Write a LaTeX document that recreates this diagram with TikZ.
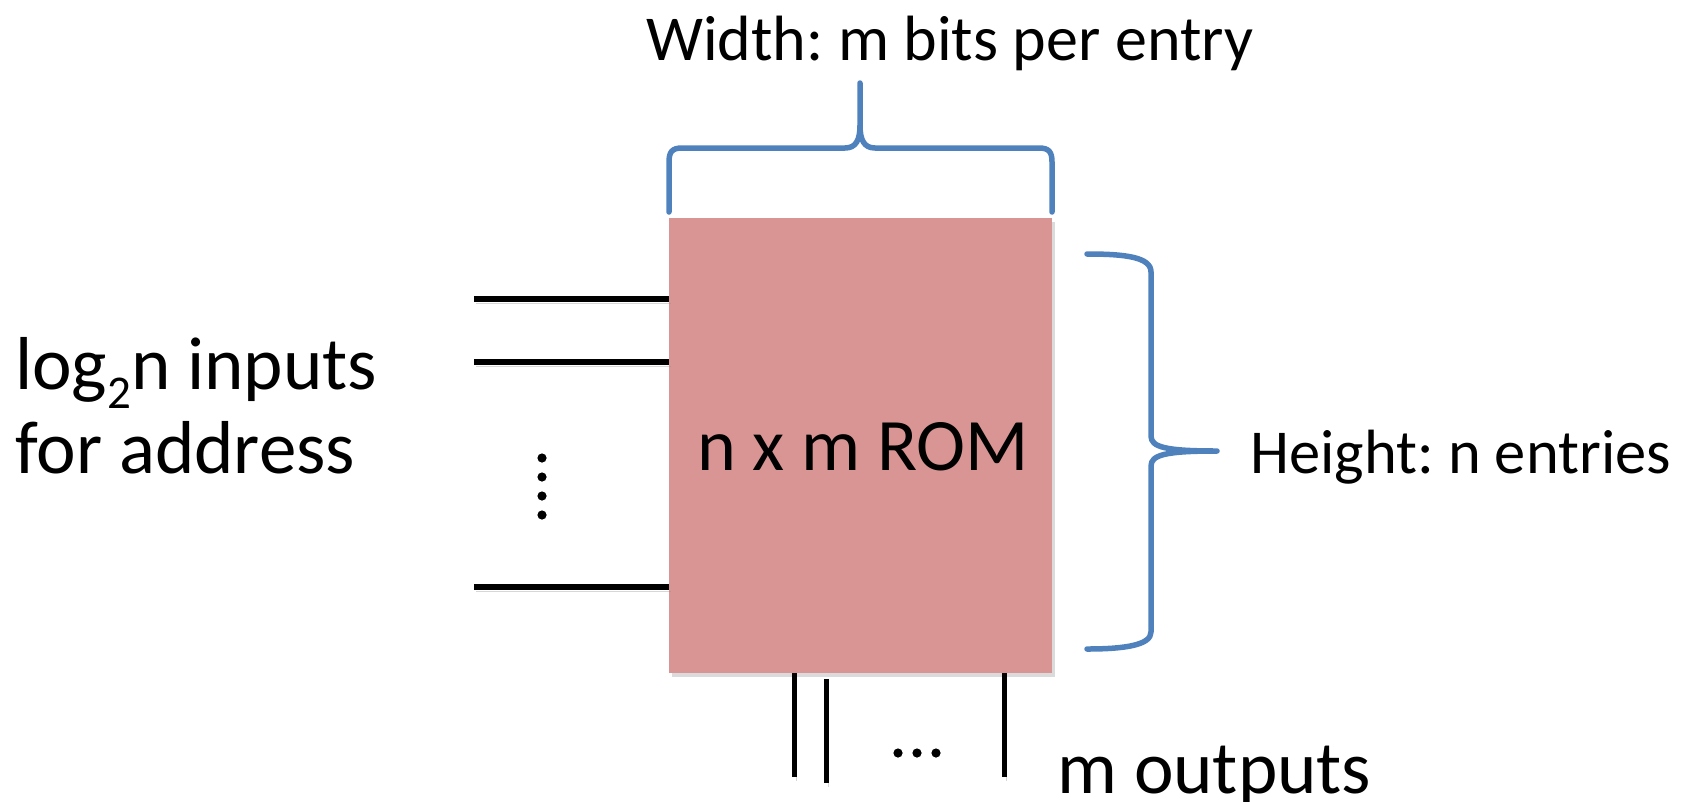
\documentclass[tikz,border=0pt]{standalone}
\usepackage{fontspec}
\setmainfont{Carlito}
\frenchspacing
\definecolor{rompink}{RGB}{217,149,148}
\definecolor{braceblue}{RGB}{79,129,189}
\tikzset{
  romfill/.style={fill=rompink, draw=none, inner sep=0pt,
    preaction={fill=black!40, opacity=.35, transform canvas={shift={(3pt,-4pt)}}}},
  wire/.style={line width=5.3pt, draw=black,
    preaction={draw=black!45, opacity=.35, transform canvas={shift={(2pt,-4pt)}}}},
  bracepath/.style={line width=5.5pt, draw=braceblue, line cap=round, line join=round},
  dotmark/.style={fill=black, draw=none},
  bigtext/.style={inner sep=0pt, font=\fontsize{75}{80}\selectfont},
  midtext/.style={inner sep=0pt, font=\fontsize{74}{80}\selectfont},
  titletext/.style={inner sep=0pt, font=\fontsize{64}{70}\selectfont},
  smalltext/.style={inner sep=0pt, font=\fontsize{62.5}{70}\selectfont},
}
\begin{document}
\begin{tikzpicture}[x=1pt,y=-1pt]
\useasboundingbox (0,0) rectangle (1693,801);

% ROM block
\path[romfill] (669,218) rectangle (1052,673);
\node[inner sep=0pt, minimum width=383pt, minimum height=455pt] (rom) at (860.5,445.5) {};
\node[midtext, anchor=base west] (romlabel) at (697,470) {n x m ROM};

% address inputs
\coordinate (in1) at (474,299);
\coordinate (in2) at (474,362);
\coordinate (in3) at (474,587);
\draw[wire] (in1) -- (in1 -| rom.west);
\draw[wire] (in2) -- (in2 -| rom.west);
\draw[wire] (in3) -- (in3 -| rom.west);
\foreach \y in {458,477,496,515} \fill[dotmark] (542,\y) circle (4.6pt);

% data outputs
\coordinate (out1) at (794,777);
\coordinate (out2) at (826,783);
\coordinate (out3) at (1004,777);
\draw[wire, line width=5pt] (out1 |- rom.south) -- (out1);
\draw[wire, line width=5pt] (826,679) -- (out2);
\draw[wire, line width=5pt] (out3 |- rom.south) -- (out3);
\foreach \x in {898,917,936} \fill[dotmark] (\x,753) circle (4.6pt);

% width brace
\draw[bracepath] (669,212) -- (669,162) .. controls (669,152) and (672,148) .. (682,148)
  -- (845,148) .. controls (856,148) and (860,140) .. (860,125) -- (860,83)
  -- (860,125) .. controls (860,140) and (864,148) .. (875,148)
  -- (1039,148) .. controls (1049,148) and (1052,152) .. (1052,162) -- (1052,212);

% height brace
\draw[bracepath] (1087,254) .. controls (1125,254) and (1151,257) .. (1151,272)
  -- (1151,436) .. controls (1151,447) and (1165,451) .. (1217,451)
  .. controls (1165,451) and (1151,455) .. (1151,466)
  -- (1151,632) .. controls (1151,645) and (1125,649) .. (1087,649);

% labels
\node[titletext, anchor=base west] (wlabel) at (646,60) {Width: m bits per entry};
\node[smalltext, anchor=base west] (hlabel) at (1250,473) {Height: n entries};
\node[bigtext, anchor=base west] (inlabel) at (15,389)
  {log\raisebox{-19pt}{\fontsize{47}{50}\selectfont 2}n inputs};
\node[bigtext, anchor=base west] (inlabel2) at (15,473) {for address};
\node[bigtext, anchor=base west] (outlabel) at (1057,793) {m outputs};
\end{tikzpicture}
\end{document}
